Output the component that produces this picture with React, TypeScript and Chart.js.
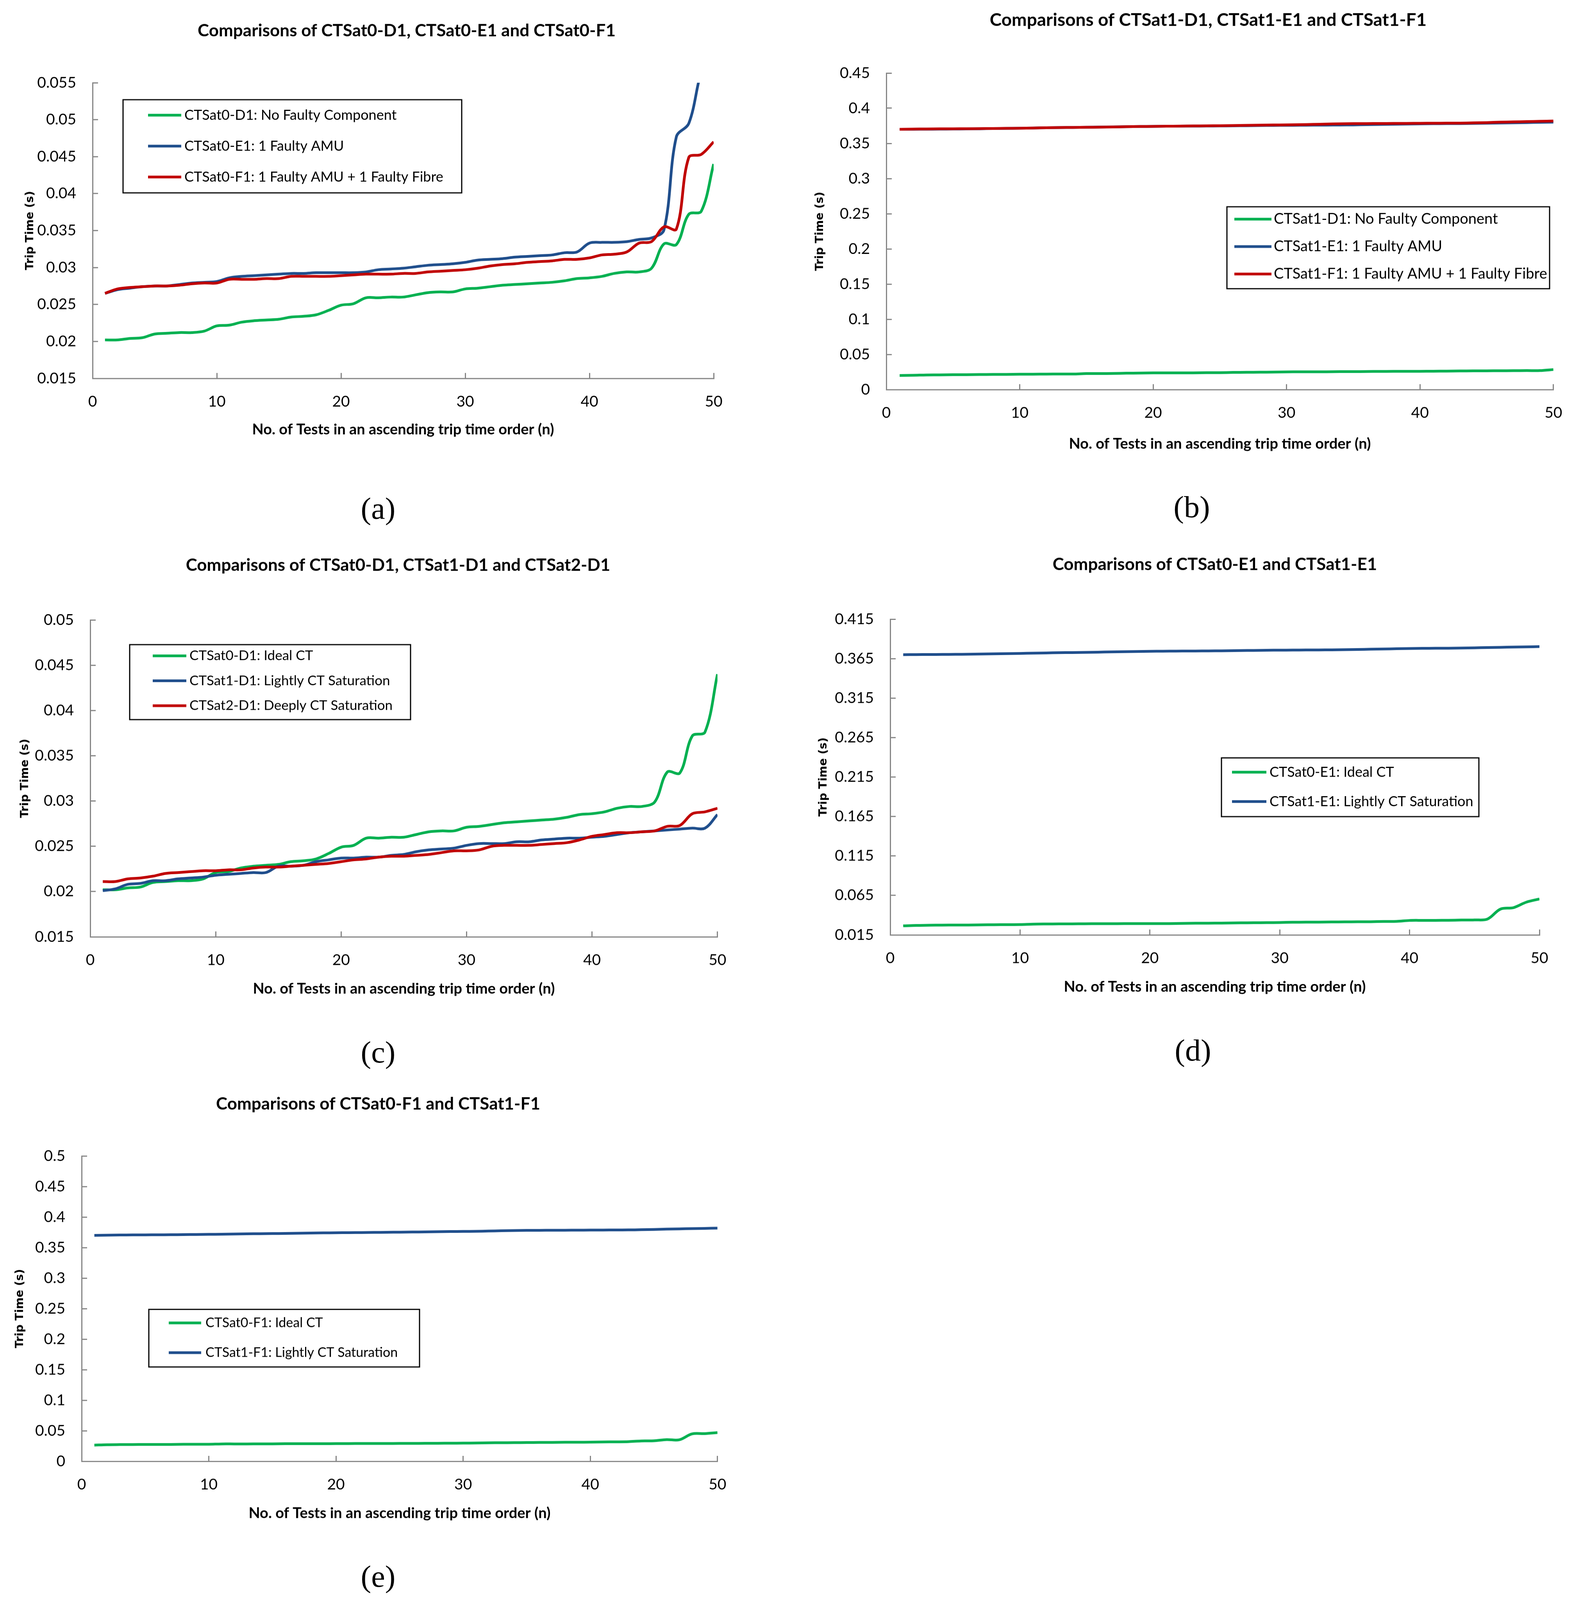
import React, { useEffect, useRef, useState } from 'react';
import { Chart, registerables } from 'chart.js';

Chart.register(...registerables);

// ---------- data ----------
const TESTS = [1, 2, 3, 4, 5, 6, 7, 8, 9, 10, 11, 12, 13, 14, 15, 16, 17, 18, 19, 20, 21, 22, 23, 24, 25, 26, 27, 28, 29, 30, 31, 32, 33, 34, 35, 36, 37, 38, 39, 40, 41, 42, 43, 44, 45, 46, 47, 48, 49, 50];

const SAT0_D1 = [0.0202, 0.0202, 0.0204, 0.0205, 0.0210, 0.0211, 0.0212, 0.0212, 0.0214, 0.0221, 0.0222, 0.0226, 0.0228, 0.0229, 0.0230, 0.0233, 0.0234, 0.0236, 0.0242, 0.0249, 0.0251, 0.0259, 0.0259, 0.0260, 0.0260, 0.0263, 0.0266, 0.0267, 0.0267, 0.0271, 0.0272, 0.0274, 0.0276, 0.0277, 0.0278, 0.0279, 0.0280, 0.0282, 0.0285, 0.0286, 0.0288, 0.0292, 0.0294, 0.0294, 0.0299, 0.0332, 0.0331, 0.0372, 0.0376, 0.0440];
const SAT0_E1 = [0.0265, 0.0270, 0.0272, 0.0274, 0.0275, 0.0275, 0.0277, 0.0279, 0.0280, 0.0281, 0.0286, 0.0288, 0.0289, 0.0290, 0.0291, 0.0292, 0.0292, 0.0293, 0.0293, 0.0293, 0.0293, 0.0294, 0.0297, 0.0298, 0.0299, 0.0301, 0.0303, 0.0304, 0.0305, 0.0307, 0.0310, 0.0311, 0.0312, 0.0314, 0.0315, 0.0316, 0.0317, 0.0320, 0.0321, 0.0333, 0.0334, 0.0334, 0.0335, 0.0338, 0.0340, 0.0351, 0.0477, 0.0495, 0.0565, 0.0605];
const SAT0_F1 = [0.0265, 0.0271, 0.0273, 0.0274, 0.0275, 0.0275, 0.0276, 0.0278, 0.0279, 0.0279, 0.0284, 0.0284, 0.0284, 0.0285, 0.0285, 0.0288, 0.0288, 0.0288, 0.0288, 0.0289, 0.0290, 0.0291, 0.0291, 0.0291, 0.0292, 0.0292, 0.0294, 0.0295, 0.0296, 0.0297, 0.0299, 0.0302, 0.0304, 0.0305, 0.0307, 0.0308, 0.0309, 0.0311, 0.0311, 0.0313, 0.0317, 0.0318, 0.0321, 0.0333, 0.0335, 0.0355, 0.0352, 0.0449, 0.0453, 0.0470];
const SAT1_D1 = [0.0201, 0.0203, 0.0208, 0.0209, 0.0212, 0.0212, 0.0214, 0.0215, 0.0216, 0.0218, 0.0219, 0.0220, 0.0221, 0.0221, 0.0228, 0.0228, 0.0229, 0.0233, 0.0235, 0.0237, 0.0237, 0.0238, 0.0238, 0.0240, 0.0241, 0.0244, 0.0246, 0.0247, 0.0248, 0.0251, 0.0253, 0.0253, 0.0253, 0.0255, 0.0255, 0.0257, 0.0258, 0.0259, 0.0259, 0.0260, 0.0261, 0.0263, 0.0265, 0.0266, 0.0267, 0.0268, 0.0269, 0.0270, 0.0270, 0.0285];
const SAT2_D1 = [0.0211, 0.0211, 0.0214, 0.0215, 0.0217, 0.0220, 0.0221, 0.0222, 0.0223, 0.0223, 0.0224, 0.0224, 0.0226, 0.0227, 0.0227, 0.0228, 0.0229, 0.0230, 0.0231, 0.0233, 0.0235, 0.0236, 0.0238, 0.0239, 0.0239, 0.0240, 0.0241, 0.0243, 0.0245, 0.0245, 0.0246, 0.0250, 0.0251, 0.0251, 0.0251, 0.0252, 0.0253, 0.0254, 0.0257, 0.0261, 0.0263, 0.0265, 0.0265, 0.0266, 0.0267, 0.0272, 0.0273, 0.0286, 0.0288, 0.0292];
const SAT1_E1 = [0.3700, 0.3701, 0.3702, 0.3703, 0.3704, 0.3706, 0.3708, 0.3711, 0.3713, 0.3716, 0.3719, 0.3722, 0.3725, 0.3727, 0.3729, 0.3732, 0.3735, 0.3738, 0.3740, 0.3742, 0.3744, 0.3745, 0.3746, 0.3747, 0.3748, 0.3750, 0.3752, 0.3754, 0.3756, 0.3757, 0.3758, 0.3759, 0.3760, 0.3761, 0.3763, 0.3766, 0.3769, 0.3772, 0.3775, 0.3778, 0.3780, 0.3781, 0.3782, 0.3784, 0.3787, 0.3790, 0.3793, 0.3796, 0.3799, 0.3802];
const SAT1_F1 = [0.3700, 0.3703, 0.3705, 0.3707, 0.3708, 0.3709, 0.3710, 0.3712, 0.3714, 0.3716, 0.3719, 0.3722, 0.3725, 0.3727, 0.3729, 0.3731, 0.3734, 0.3737, 0.3740, 0.3742, 0.3744, 0.3746, 0.3748, 0.3750, 0.3752, 0.3754, 0.3757, 0.3760, 0.3762, 0.3764, 0.3766, 0.3770, 0.3775, 0.3779, 0.3781, 0.3782, 0.3783, 0.3784, 0.3785, 0.3786, 0.3787, 0.3788, 0.3789, 0.3792, 0.3796, 0.3802, 0.3806, 0.3810, 0.3814, 0.3818];

const X_TICKS = [0, 10, 20, 30, 40, 50];
const Y_TICKS_A = [0.015, 0.02, 0.025, 0.03, 0.035, 0.04, 0.045, 0.05, 0.055];
const Y_TICKS_B = [0, 0.05, 0.1, 0.15, 0.2, 0.25, 0.3, 0.35, 0.4, 0.45];
const Y_TICKS_C = [0.015, 0.02, 0.025, 0.03, 0.035, 0.04, 0.045, 0.05];
const Y_TICKS_D = [0.015, 0.065, 0.115, 0.165, 0.215, 0.265, 0.315, 0.365, 0.415];
const Y_TICKS_E = [0, 0.05, 0.1, 0.15, 0.2, 0.25, 0.3, 0.35, 0.4, 0.45, 0.5];

const X_TITLE = 'No. of Tests in an ascending trip time order (n)';
const Y_TITLE = 'Trip Time (s)';

const TITLES = [
  'Comparisons of CTSat0-D1, CTSat0-E1 and CTSat0-F1',
  'Comparisons of CTSat1-D1, CTSat1-E1 and CTSat1-F1',
  'Comparisons of CTSat0-D1, CTSat1-D1 and CTSat2-D1',
  'Comparisons of CTSat0-E1 and CTSat1-E1',
  'Comparisons of CTSat0-F1 and CTSat1-F1',
];
const LETTERS = ['(a)', '(b)', '(c)', '(d)', '(e)'];

// ---------- styles ----------
const PAGE_W = 4050;
const PAGE_H = 4140;
const GREEN = '#00B050';
const BLUE = '#1F4E8C';
const RED = '#C00000';
const AXIS = '#868686';
const FONT = "Lato, 'Open Sans', sans-serif";
const YFONT = "'DejaVu Sans', Verdana, sans-serif";

type Series = { label: string; values: number[]; color: string };
type PanelCfg = {
  title: string;
  letter: string;
  yTicks: number[];
  series: Series[];
  plot: { l: number; t: number; r: number; b: number };
  canvas: { x: number; y: number; w: number; h: number };
  titlePos: { x: number; y: number; size: number };
  xTitleY: number;
  yTitleX: number;
  legend: { x: number; y: number; w: number; h: number; first: number; step: number; sx: number; slen: number; tx: number; size: number };
  letterPos: { x: number; y: number };
};

const PANELS: PanelCfg[] = [
  {
    title: TITLES[0], letter: LETTERS[0], yTicks: Y_TICKS_A,
    series: [
      { label: 'CTSat0-D1: No Faulty Component', values: SAT0_D1, color: GREEN },
      { label: 'CTSat0-E1: 1 Faulty AMU', values: SAT0_E1, color: BLUE },
      { label: 'CTSat0-F1: 1 Faulty AMU + 1 Faulty Fibre', values: SAT0_F1, color: RED },
    ],
    plot: { l: 237, t: 214, r: 1827, b: 979 },
    canvas: { x: 0, y: 0, w: 1910, h: 1170 },
    titlePos: { x: 1041, y: 80, size: 44 },
    xTitleY: 1112, yTitleX: 77,
    legend: { x: 315, y: 258, w: 867, h: 241, first: 40, step: 80, sx: 64, slen: 85, tx: 157, size: 36 },
    letterPos: { x: 968, y: 1315 },
  },
  {
    title: TITLES[1], letter: LETTERS[1], yTicks: Y_TICKS_B,
    series: [
      { label: 'CTSat1-D1: No Faulty Component', values: SAT1_D1, color: GREEN },
      { label: 'CTSat1-E1: 1 Faulty AMU', values: SAT1_E1, color: BLUE },
      { label: 'CTSat1-F1: 1 Faulty AMU + 1 Faulty Fibre', values: SAT1_F1, color: RED },
    ],
    plot: { l: 2269, t: 189, r: 3997, b: 1008 },
    canvas: { x: 2020, y: 0, w: 2030, h: 1200 },
    titlePos: { x: 3093, y: 52, size: 46 },
    xTitleY: 1149, yTitleX: 2099,
    legend: { x: 3141, y: 535, w: 826, h: 212, first: 32, step: 71, sx: 19, slen: 95, tx: 120, size: 38 },
    letterPos: { x: 3051, y: 1311 },
  },
  {
    title: TITLES[2], letter: LETTERS[2], yTicks: Y_TICKS_C,
    series: [
      { label: 'CTSat0-D1: Ideal CT', values: SAT0_D1, color: GREEN },
      { label: 'CTSat1-D1: Lightly CT Saturation', values: SAT1_D1, color: BLUE },
      { label: 'CTSat2-D1: Deeply CT Saturation', values: SAT2_D1, color: RED },
    ],
    plot: { l: 231, t: 1604, r: 1847, b: 2424 },
    canvas: { x: 0, y: 1390, w: 1910, h: 1210 },
    titlePos: { x: 1019, y: 1463, size: 44 },
    xTitleY: 2559, yTitleX: 64,
    legend: { x: 332, y: 1668, w: 719, h: 194, first: 29, step: 64.5, sx: 59, slen: 86, tx: 153, size: 35 },
    letterPos: { x: 968, y: 2722 },
  },
  {
    title: TITLES[3], letter: LETTERS[3], yTicks: Y_TICKS_D,
    series: [
      { label: 'CTSat0-E1: Ideal CT', values: SAT0_E1, color: GREEN },
      { label: 'CTSat1-E1: Lightly CT Saturation', values: SAT1_E1, color: BLUE },
    ],
    plot: { l: 2279, t: 1602, r: 3941, b: 2419 },
    canvas: { x: 2020, y: 1390, w: 2000, h: 1210 },
    titlePos: { x: 3110, y: 1461, size: 44 },
    xTitleY: 2554, yTitleX: 2108,
    legend: { x: 3127, y: 1961, w: 659, h: 152, first: 37, step: 76, sx: 27, slen: 88, tx: 123, size: 36 },
    letterPos: { x: 3054, y: 2717 },
  },
  {
    title: TITLES[4], letter: LETTERS[4], yTicks: Y_TICKS_E,
    series: [
      { label: 'CTSat0-F1: Ideal CT', values: SAT0_F1, color: GREEN },
      { label: 'CTSat1-F1: Lightly CT Saturation', values: SAT1_F1, color: BLUE },
    ],
    plot: { l: 209, t: 2991, r: 1845, b: 3781 },
    canvas: { x: 0, y: 2780, w: 1910, h: 1200 },
    titlePos: { x: 968, y: 2857, size: 44 },
    xTitleY: 3916, yTitleX: 51,
    legend: { x: 381, y: 3388, w: 693, h: 149, first: 35, step: 77, sx: 51, slen: 83, tx: 145, size: 34 },
    letterPos: { x: 968, y: 4079 },
  },
];

function buildChart(canvas: HTMLCanvasElement, p: PanelCfg) {
  const cx = p.canvas.x;
  const cy = p.canvas.y;
  const canvasBottom = cy + p.canvas.h;
  const TL = -14;
  const tickSize = 39;
  const tickLH = tickSize * 1.2;
  const xtSize = 38;
  const ytSize = 29;

  const titlePlugin = {
    id: 'panelTitle',
    afterDraw(chart: any) {
      const ctx = chart.ctx;
      ctx.save();
      ctx.font = `bold ${p.titlePos.size}px ${FONT}`;
      ctx.fillStyle = '#000';
      ctx.textAlign = 'center';
      ctx.textBaseline = 'middle';
      ctx.fillText(p.title, p.titlePos.x - cx, p.titlePos.y - cy);
      ctx.restore();
    },
  };

  const legendPlugin = {
    id: 'boxLegend',
    afterDraw(chart: any) {
      const ctx = chart.ctx;
      const L = p.legend;
      const x = L.x - cx;
      const y = L.y - cy;
      ctx.save();
      ctx.fillStyle = '#fff';
      ctx.fillRect(x, y, L.w, L.h);
      ctx.lineWidth = 3;
      ctx.strokeStyle = '#000';
      ctx.strokeRect(x, y, L.w, L.h);
      ctx.font = `${L.size}px ${FONT}`;
      ctx.textAlign = 'left';
      ctx.textBaseline = 'middle';
      chart.data.datasets.forEach((ds: any, i: number) => {
        const yy = y + L.first + i * L.step;
        ctx.strokeStyle = ds.borderColor;
        ctx.lineWidth = 7;
        ctx.beginPath();
        ctx.moveTo(x + L.sx, yy);
        ctx.lineTo(x + L.sx + L.slen, yy);
        ctx.stroke();
        ctx.fillStyle = '#000';
        ctx.fillText(ds.label, x + L.tx, yy);
      });
      ctx.restore();
    },
  };

  return new Chart(canvas, {
    type: 'line',
    data: {
      datasets: p.series.map((s, i) => ({
        label: s.label,
        data: TESTS.map((n, j) => ({ x: n, y: s.values[j] })),
        borderColor: s.color,
        backgroundColor: s.color,
        borderWidth: 7,
        pointRadius: 0,
        tension: 0.35,
        fill: false,
        order: -i,
      })),
    },
    options: {
      animation: false,
      responsive: false,
      devicePixelRatio: 1,
      layout: {
        padding: { top: p.plot.t - cy, right: cx + p.canvas.w - p.plot.r, left: 0, bottom: 0 },
      },
      plugins: {
        legend: { display: false },
        tooltip: { enabled: false },
        title: { display: false },
      },
      scales: {
        x: {
          type: 'linear',
          min: 0,
          max: 50,
          afterBuildTicks: (s: any) => { s.ticks = X_TICKS.map((v) => ({ value: v })); },
          afterFit: (s: any) => { s.height = canvasBottom - p.plot.b; },
          border: { color: AXIS, width: 3 },
          grid: { drawOnChartArea: false, drawTicks: true, tickLength: TL, tickColor: AXIS, tickWidth: 3 },
          ticks: {
            color: '#000',
            font: { family: FONT, size: tickSize },
            padding: 60 - TL - tickLH / 2,
            maxRotation: 0,
            autoSkip: false,
            callback: (v: any) => String(v),
          },
          title: {
            display: true,
            text: X_TITLE,
            color: '#000',
            font: { family: FONT, size: xtSize, weight: 'bold' },
            padding: { top: 0, bottom: canvasBottom - p.xTitleY - (xtSize * 1.2) / 2 },
          },
        },
        y: {
          type: 'linear',
          min: p.yTicks[0],
          max: p.yTicks[p.yTicks.length - 1],
          afterBuildTicks: (s: any) => { s.ticks = p.yTicks.map((v) => ({ value: v })); },
          afterFit: (s: any) => { s.width = p.plot.l - cx; },
          border: { color: AXIS, width: 3 },
          grid: { drawOnChartArea: false, drawTicks: true, tickLength: TL, tickColor: AXIS, tickWidth: 3 },
          ticks: {
            color: '#000',
            font: { family: FONT, size: tickSize },
            padding: 42 - TL,
            autoSkip: false,
            callback: (v: any) => String(v),
          },
          title: {
            display: true,
            text: Y_TITLE,
            color: '#000',
            font: { family: YFONT, size: ytSize, weight: 'bold' },
            padding: { top: p.yTitleX - cx - (ytSize * 1.2) / 2, bottom: 0 },
          },
        },
      },
    } as any,
    plugins: [titlePlugin, legendPlugin],
  });
}

function Panel({ p }: { p: PanelCfg }) {
  const ref = useRef<HTMLCanvasElement | null>(null);
  useEffect(() => {
    if (!ref.current) return;
    const chart = buildChart(ref.current, p);
    return () => chart.destroy();
  }, [p]);
  return (
    <canvas
      ref={ref}
      width={p.canvas.w}
      height={p.canvas.h}
      style={{ position: 'absolute', left: p.canvas.x, top: p.canvas.y, width: p.canvas.w, height: p.canvas.h }}
    />
  );
}

function viewportScale() {
  if (typeof window === 'undefined') return { sx: 1, sy: 1 };
  const w = document.documentElement.clientWidth || window.innerWidth;
  const h = document.documentElement.clientHeight || window.innerHeight;
  const sx = w > 1000 ? w / PAGE_W : 1;
  const sy = h > 1000 ? h / PAGE_H : 1;
  return { sx, sy };
}

export default function App() {
  const [scale, setScale] = useState(viewportScale());
  useEffect(() => {
    const onResize = () => setScale(viewportScale());
    window.addEventListener('resize', onResize);
    return () => window.removeEventListener('resize', onResize);
  }, []);
  return (
    <div style={{ position: 'fixed', left: 0, top: 0, width: '100vw', height: '100vh', overflow: 'hidden', background: '#fff' }}>
      <div
        style={{
          position: 'absolute',
          left: 0,
          top: 0,
          width: PAGE_W,
          height: PAGE_H,
          background: '#fff',
          transformOrigin: '0 0',
          transform: `scale(${scale.sx}, ${scale.sy})`,
        }}
      >
        {PANELS.map((p, i) => (
          <Panel key={i} p={p} />
        ))}
        {PANELS.map((p, i) => (
          <div
            key={'l' + i}
            style={{
              position: 'absolute',
              left: p.letterPos.x,
              top: p.letterPos.y,
              transform: 'translate(-50%, -50%)',
              fontFamily: "'Liberation Serif', 'DejaVu Serif', serif",
              fontSize: 80,
              lineHeight: 1,
              color: '#000',
              whiteSpace: 'nowrap',
            }}
          >
            {p.letter}
          </div>
        ))}
      </div>
    </div>
  );
}
